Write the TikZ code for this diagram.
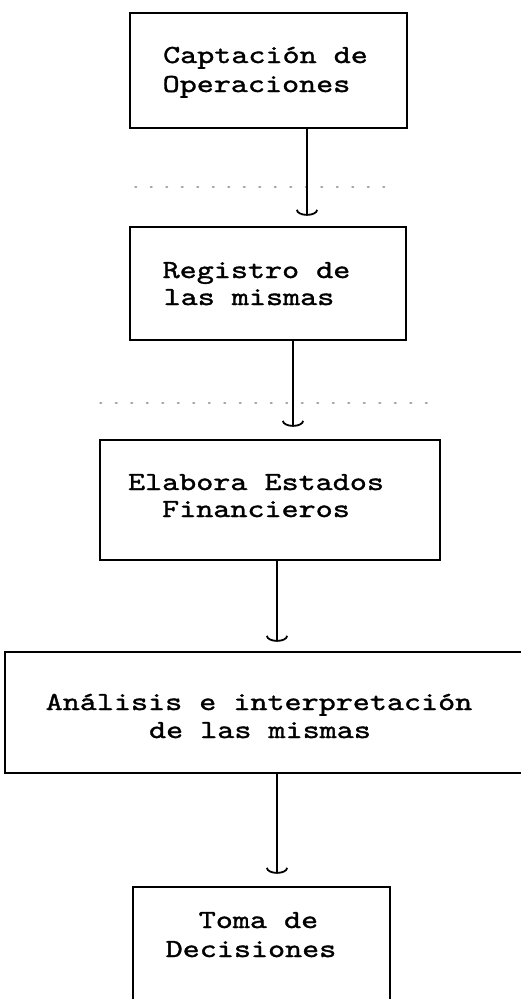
\documentclass[tikz,border=0pt]{standalone}
\usepackage{fontspec}
\newfontfamily\tw{lmmono10-regular.otf}[FakeBold=1.3,FakeStretch=1.25]
\usetikzlibrary{arrows.meta}
\begin{document}
\begin{tikzpicture}[x=1pt,y=-1pt,
 box/.style={draw, line width=2.4pt, inner sep=0pt},
 txt/.style={anchor=base, inner sep=0pt, font=\tw\fontsize{26}{26}\selectfont},
 arr/.style={line width=1.8pt, -{Arc Barb[width=22pt,length=6pt,line width=1.8pt]}},
 scan/.style={gray!70, line width=1.5pt, dash pattern=on 1.5pt off 14pt, line cap=round}]
\useasboundingbox (0,0) rectangle (521,999);
\clip (0,0) rectangle (521,999);
\fill[white] (0,0) rectangle (521,999);
% boxes
\node[box, minimum width=277pt, minimum height=115pt] (b1) at (268.5,70.5) {};
\node[box, minimum width=276pt, minimum height=113pt] (b2) at (268,283.5) {};
\node[box, minimum width=340pt, minimum height=120pt] (b3) at (270,500) {};
\node[box, minimum width=521pt, minimum height=121pt] (b4) at (265.5,712.5) {};
\node[box, minimum width=257pt, minimum height=125pt] (b5) at (261.5,949.5) {};
% texts
\node[txt] (t1a) at (265.5,63) {Captación de};
\node[txt] (t1b) at (256.5,92) {Operaciones};
\node[txt] (t2a) at (256.5,278) {Registro de};
\node[txt] (t2b) at (249,305) {las mismas};
\node[txt] (t3a) at (256,490) {Elabora Estados};
\node[txt] (t3b) at (256,517) {Financieros};
\node[txt] (t4a) at (259,710) {Análisis e interpretación};
\node[txt] (t4b) at (260,738) {de las mismas};
\node[txt] (t5a) at (258.5,928) {Toma de};
\node[txt] (t5b) at (251,957) {Decisiones};
% faint dotted scan lines
\draw[scan] (135,187) -- (395,187);
\draw[scan] (100,403) -- (430,403);
% connectors
\coordinate (x1) at (307,0);
\coordinate (x2) at (293,0);
\coordinate (x3) at (277,0);
\draw[arr, shorten >=10pt] (b1.south -| x1) -- (b2.north -| x1);
\draw[arr, shorten >=12pt] (b2.south -| x2) -- (b3.north -| x2);
\draw[arr, shorten >=9pt] (b3.south -| x3) -- (b4.north -| x3);
\draw[arr, shorten >=12pt] (b4.south -| x3) -- (b5.north -| x3);
\end{tikzpicture}
\end{document}
